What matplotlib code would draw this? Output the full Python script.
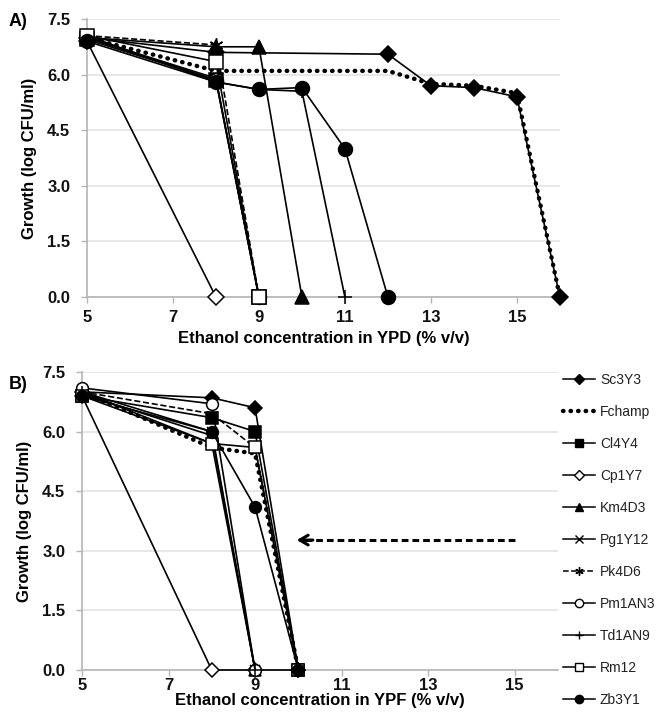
import matplotlib
matplotlib.use('Agg')
import matplotlib.pyplot as plt
from matplotlib.lines import Line2D

plt.rcParams['font.family'] = ['Liberation Sans', 'DejaVu Sans']

strains = ['Sc3Y3', 'Fchamp', 'Cl4Y4', 'Cp1Y7', 'Km4D3', 'Pg1Y12',
           'Pk4D6', 'Pm1AN3', 'Td1AN9', 'Rm12', 'Zb3Y1']

#%% panel A: YPD
ypd_x = {
    'Sc3Y3': [5, 8, 12, 13, 14, 15, 16],
    'Fchamp': [5, 8, 12, 13, 14, 15, 16],
    'Cl4Y4': [5, 8, 9],
    'Cp1Y7': [5, 8],
    'Km4D3': [5, 8, 9, 10],
    'Pg1Y12': [5, 8, 9],
    'Pk4D6': [5, 8, 9],
    'Pm1AN3': [5, 8, 9],
    'Td1AN9': [5, 8, 9, 10, 11],
    'Rm12': [5, 8, 9],
    'Zb3Y1': [5, 8, 9, 10, 11, 12],
}
ypd_y = {
    'Sc3Y3': [7.0, 6.6, 6.55, 5.7, 5.65, 5.4, 0.0],
    'Fchamp': [7.0, 6.1, 6.1, 5.75, 5.7, 5.5, 0.0],
    'Cl4Y4': [6.95, 5.85, 0.0],
    'Cp1Y7': [6.9, 0.0],
    'Km4D3': [7.0, 6.75, 6.75, 0.0],
    'Pg1Y12': [7.0, 5.9, 0.0],
    'Pk4D6': [7.05, 6.8, 0.0],
    'Pm1AN3': [7.0, 5.85, 0.0],
    'Td1AN9': [7.05, 5.8, 5.6, 5.55, 0.0],
    'Rm12': [7.05, 6.35, 0.0],
    'Zb3Y1': [6.9, 5.8, 5.6, 5.65, 4.0, 0.0],
}

#%% panel B: YPF
ypf_x = {
    'Sc3Y3': [5, 8, 9, 10],
    'Fchamp': [5, 8, 9, 10],
    'Cl4Y4': [5, 8, 9, 10],
    'Cp1Y7': [5, 8, 9, 10],
    'Km4D3': [5, 8, 9],
    'Pg1Y12': [5, 8, 9],
    'Pk4D6': [5, 8, 9, 10],
    'Pm1AN3': [5, 8, 9],
    'Td1AN9': [5, 8, 9],
    'Rm12': [5, 8, 9, 10],
    'Zb3Y1': [5, 8, 9, 10],
}
ypf_y = {
    'Sc3Y3': [7.0, 6.85, 6.6, 0.0],
    'Fchamp': [7.0, 5.6, 5.45, 0.0],
    'Cl4Y4': [6.9, 6.35, 6.0, 0.0],
    'Cp1Y7': [6.9, 0.0, 0.0, 0.0],
    'Km4D3': [6.95, 5.9, 0.0],
    'Pg1Y12': [7.0, 6.0, 0.0],
    'Pk4D6': [7.0, 6.45, 5.6, 0.0],
    'Pm1AN3': [7.1, 6.7, 0.0],
    'Td1AN9': [7.0, 5.7, 0.0],
    'Rm12': [6.9, 5.7, 5.6, 0.0],
    'Zb3Y1': [6.9, 6.0, 4.1, 0.0],
}

yticks = [0.0, 1.5, 3.0, 4.5, 6.0, 7.5]
xticks = [5, 7, 9, 11, 13, 15]

# marker, facecolor, linestyle, markersize scale
styles = {
    'Sc3Y3': ('D', 'black', '-', 0.85),
    'Fchamp': (None, 'black', ':', 1.0),
    'Cl4Y4': ('s', 'black', '-', 1.0),
    'Cp1Y7': ('D', 'white', '-', 0.85),
    'Km4D3': ('^', 'black', '-', 1.0),
    'Pg1Y12': ('x', 'black', '-', 0.9),
    'Pk4D6': ((6, 2, 0), 'black', '--', 1.0),
    'Pm1AN3': ('o', 'white', '-', 1.0),
    'Td1AN9': ('+', 'black', '-', 1.0),
    'Rm12': ('s', 'white', '-', 1.0),
    'Zb3Y1': ('o', 'black', '-', 1.0),
}
dotted = (0, (0.1, 1.6))


def draw(ax, xs, ys, ms, xpad):
    for s in strains:
        mk, fc, ls, sc = styles[s]
        if s == 'Fchamp':
            ax.plot(xs[s], ys[s], color='black', linestyle=dotted,
                    lw=3.2, dash_capstyle='round', zorder=3)
        else:
            ax.plot(xs[s], ys[s], color='black', linestyle=ls, lw=1.2,
                    marker=mk, markersize=ms * sc, markerfacecolor=fc,
                    markeredgecolor='black', markeredgewidth=1.1,
                    zorder=4, clip_on=False)
    ax.set_xlim(5, 16)
    ax.set_ylim(0, 7.5)
    ax.set_yticks(yticks)
    ax.set_yticklabels(['{:.1f}'.format(v) for v in yticks])
    ax.set_xticks(xticks)
    ax.grid(True, axis='y', color='#e3e3e3', lw=1.2)
    ax.set_axisbelow(True)
    for sp in ('top', 'right'):
        ax.spines[sp].set_visible(False)
    for sp in ('left', 'bottom'):
        ax.spines[sp].set_color('#b5b5b5')
        ax.spines[sp].set_linewidth(1.2)
    ax.tick_params(axis='both', colors='#b5b5b5', length=4, width=1, labelsize=12,
                   labelcolor='#111111')
    ax.tick_params(axis='y', pad=8)
    ax.tick_params(axis='x', pad=xpad)
    for t in ax.get_xticklabels() + ax.get_yticklabels():
        t.set_fontweight('bold')
    ax.set_ylabel('Growth (log CFU/ml)', fontsize=12, fontweight='bold', labelpad=7)


fg = plt.figure(figsize=(6.61, 7.14), dpi=100)

axA = fg.add_axes([0.1316, 0.584, 0.7154, 0.3894])
draw(axA, ypd_x, ypd_y, 10, 5)
axA.set_xlabel('Ethanol concentration in YPD (% v/v)', fontsize=12,
               fontweight='bold', labelpad=5)
fg.text(0.013, 0.963, 'A)', fontsize=13, fontweight='bold')

axB = fg.add_axes([0.124, 0.0616, 0.7201, 0.4174])
draw(axB, ypf_x, ypf_y, 8.5, 1.5)
axB.set_xlabel('Ethanol concentration in YPF (% v/v)', fontsize=12,
               fontweight='bold', labelpad=0)
fg.text(0.013, 0.455, 'B)', fontsize=13, fontweight='bold')

# dashed arrow in panel B
axB.plot([10.15, 15], [3.27, 3.27], color='black', lw=2.2, linestyle=(0, (2.2, 1.3)))
axB.annotate('', xy=(9.9, 3.27), xytext=(10.4, 3.27),
             arrowprops=dict(arrowstyle='->,head_length=0.6,head_width=0.35',
                             lw=2.2, color='black'))

# legend on the right
leg_handles = []
for s in strains:
    mk, fc, ls, sc = styles[s]
    if s == 'Fchamp':
        leg_handles.append(Line2D([], [], color='black', linestyle=dotted,
                                  lw=3.2, dash_capstyle='round'))
    else:
        leg_handles.append(Line2D([], [], color='black', linestyle=ls, lw=1.1,
                                  marker=mk, markersize=6 * sc, markerfacecolor=fc,
                                  markeredgecolor='black'))
fg.legend(leg_handles, strains, loc='upper left', bbox_to_anchor=(0.852, 0.478),
          frameon=False, fontsize=10, labelspacing=1.3, handlelength=2.3,
          handletextpad=0.35, borderpad=0, borderaxespad=0, labelcolor='#222222')

fg.savefig('out.png', dpi=100)
